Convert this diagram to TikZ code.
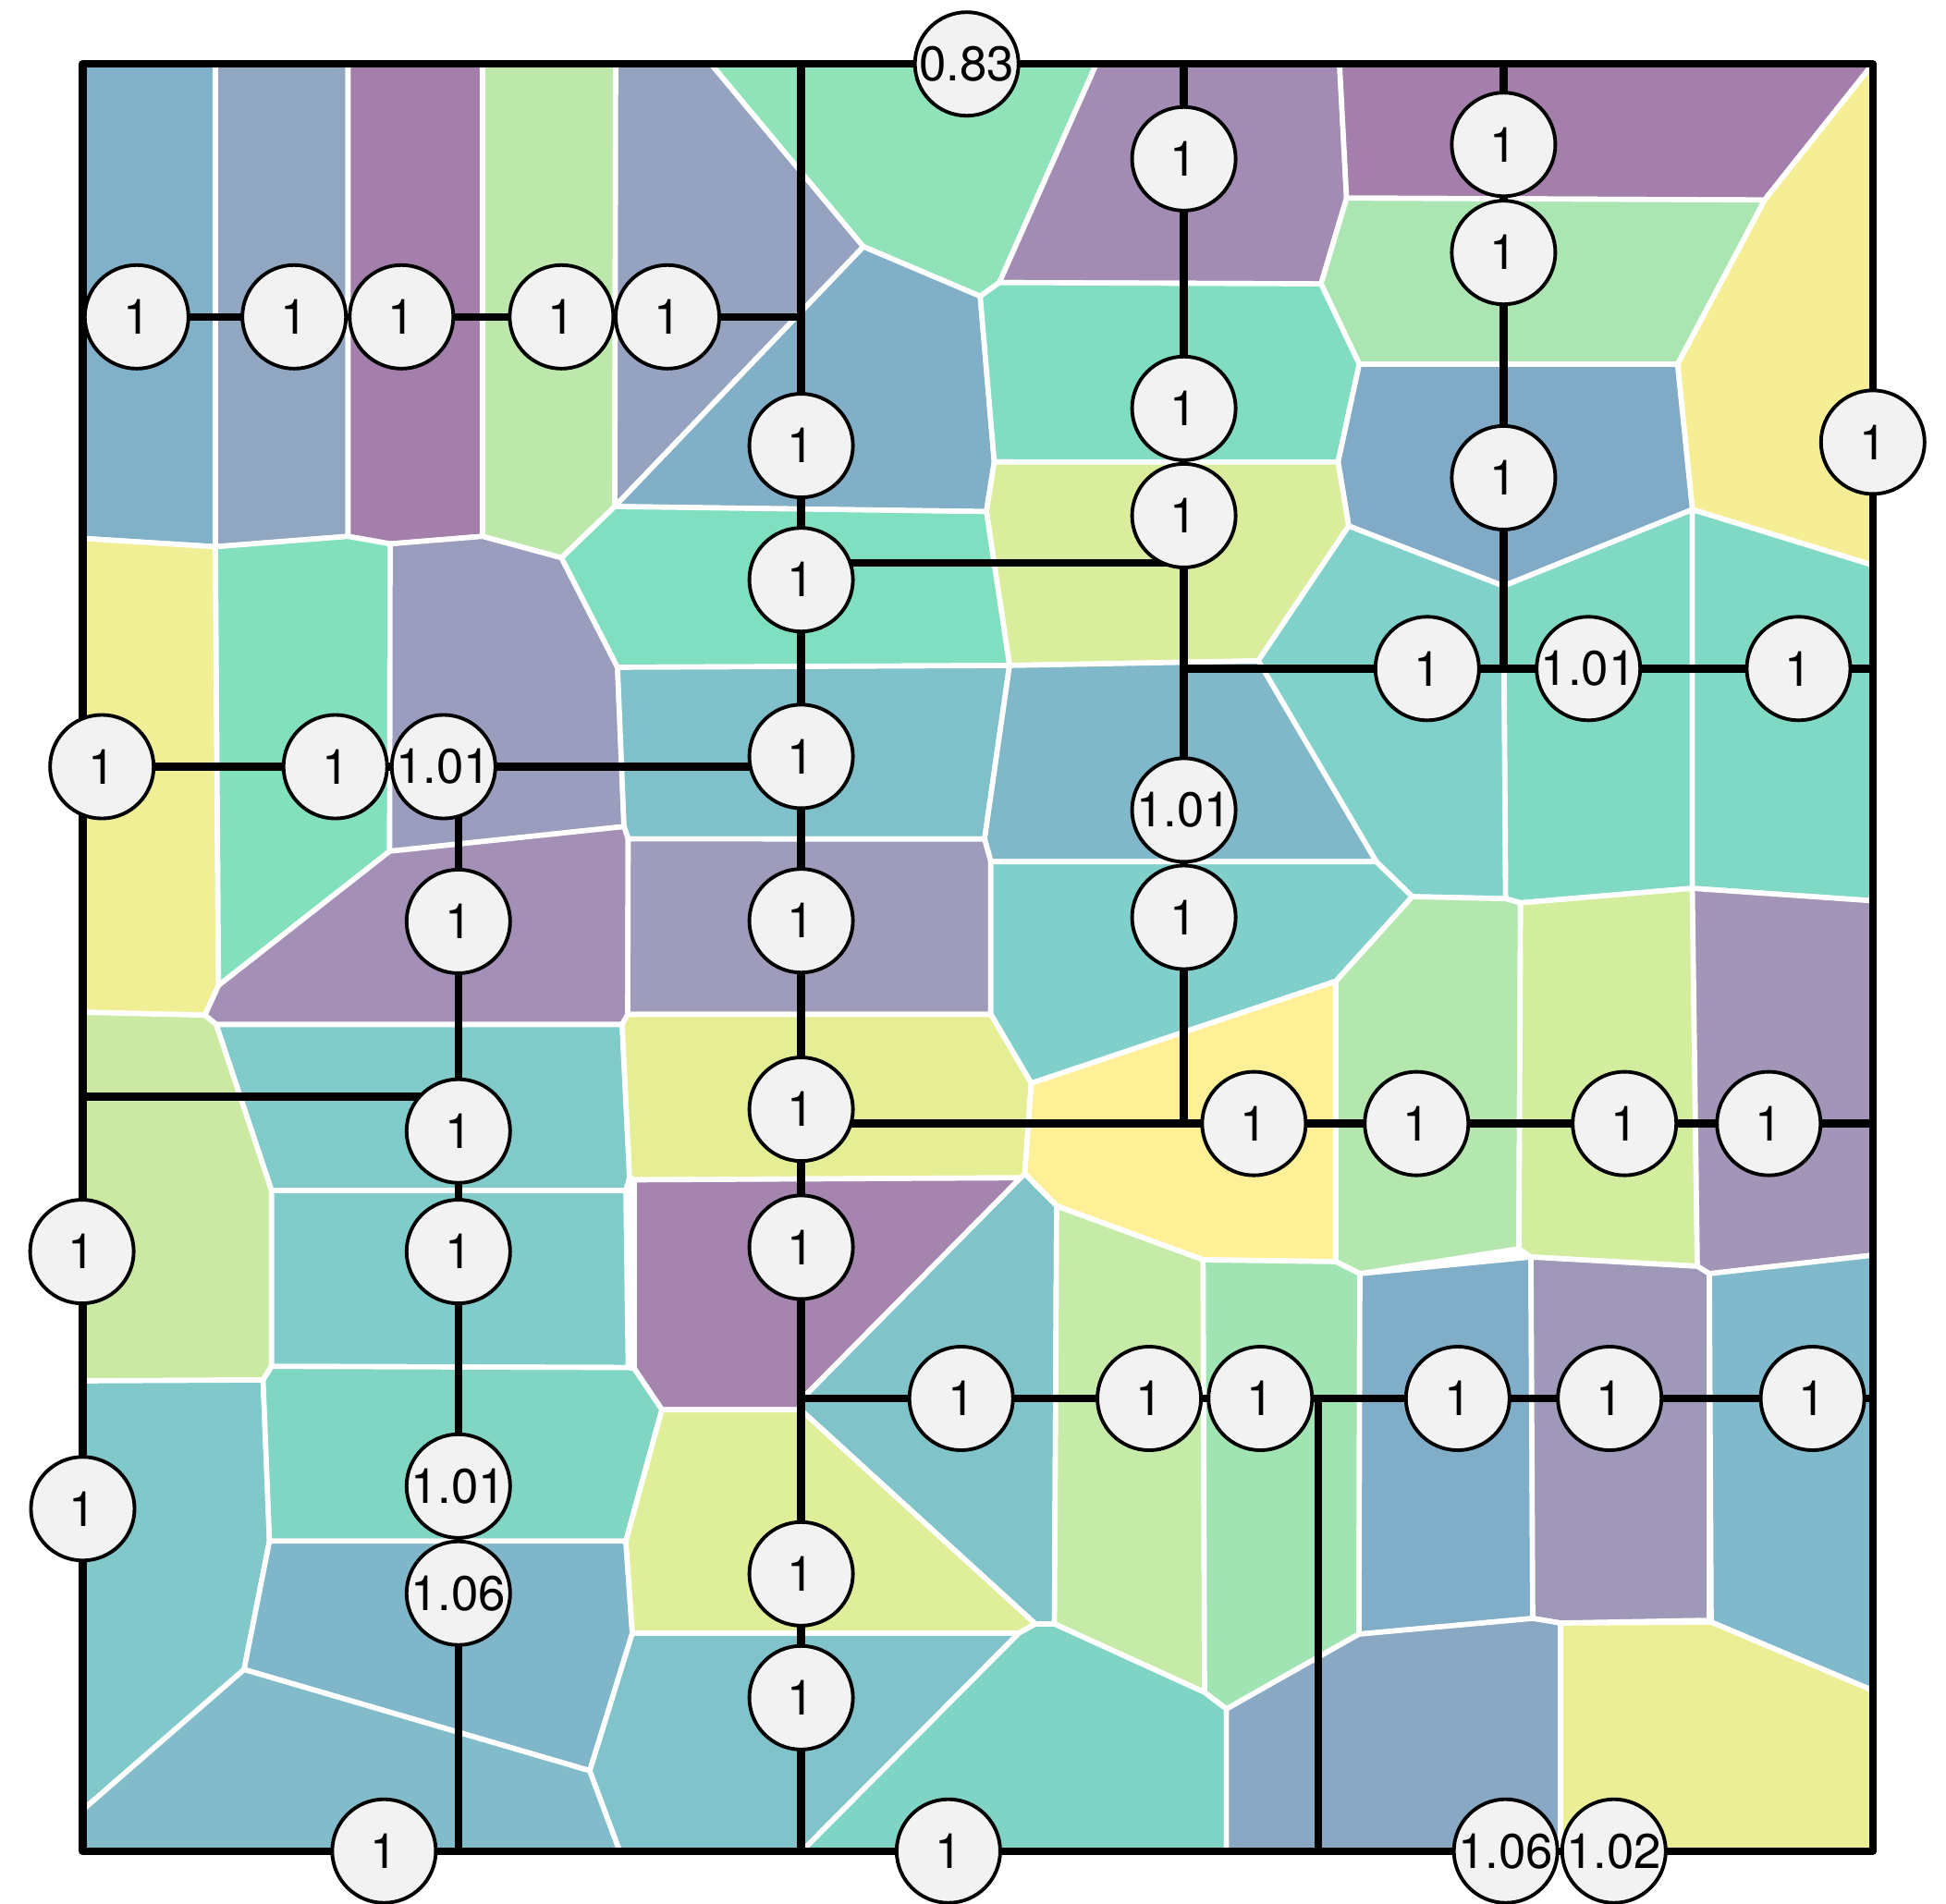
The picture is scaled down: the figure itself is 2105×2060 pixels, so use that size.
\documentclass[tikz,border=0pt]{standalone}
\usepackage{fontspec}
\usepackage{xcolor}
\newfontfamily\valfont{TeX Gyre Heros}
\definecolor{nodegray}{RGB}{242,242,242}
\definecolor{cellA}{RGB}{128,177,200}
\definecolor{cellB}{RGB}{145,166,192}
\definecolor{cellC}{RGB}{164,127,171}
\definecolor{cellD}{RGB}{189,232,171}
\definecolor{cellE}{RGB}{149,162,192}
\definecolor{cellF}{RGB}{144,227,184}
\definecolor{cellG}{RGB}{128,175,199}
\definecolor{cellH}{RGB}{163,140,179}
\definecolor{cellI}{RGB}{164,127,171}
\definecolor{cellJ}{RGB}{245,238,148}
\definecolor{cellK}{RGB}{171,230,178}
\definecolor{cellL}{RGB}{128,221,193}
\definecolor{cellM}{RGB}{128,170,197}
\definecolor{cellN}{RGB}{218,237,156}
\definecolor{cellO}{RGB}{128,209,201}
\definecolor{cellP}{RGB}{128,218,195}
\definecolor{cellQ}{RGB}{128,217,197}
\definecolor{cellR}{RGB}{240,239,150}
\definecolor{cellS}{RGB}{130,224,189}
\definecolor{cellT}{RGB}{155,157,190}
\definecolor{cellU}{RGB}{128,223,192}
\definecolor{cellV}{RGB}{128,192,203}
\definecolor{cellW}{RGB}{128,183,201}
\definecolor{cellX}{RGB}{164,143,182}
\definecolor{cellY}{RGB}{159,156,187}
\definecolor{cellZ}{RGB}{128,207,202}
\definecolor{cell24}{RGB}{203,233,163}
\definecolor{cell25}{RGB}{128,203,202}
\definecolor{cell26}{RGB}{229,238,149}
\definecolor{cell27}{RGB}{254,240,151}
\definecolor{cell28}{RGB}{179,231,174}
\definecolor{cell29}{RGB}{211,237,159}
\definecolor{cell30}{RGB}{162,149,184}
\definecolor{cell31}{RGB}{128,204,202}
\definecolor{cell32}{RGB}{165,133,174}
\definecolor{cell33}{RGB}{128,196,202}
\definecolor{cell34}{RGB}{198,234,168}
\definecolor{cell35}{RGB}{161,228,179}
\definecolor{cell36}{RGB}{128,174,200}
\definecolor{cell37}{RGB}{159,152,185}
\definecolor{cell38}{RGB}{128,185,203}
\definecolor{cell39}{RGB}{128,200,202}
\definecolor{cell40}{RGB}{128,214,195}
\definecolor{cell41}{RGB}{128,182,202}
\definecolor{cell42}{RGB}{130,188,202}
\definecolor{cell43}{RGB}{223,238,153}
\definecolor{cell44}{RGB}{128,195,202}
\definecolor{cell45}{RGB}{128,212,197}
\definecolor{cell46}{RGB}{136,168,196}
\definecolor{cell47}{RGB}{236,238,149}
\pgfdeclarelayer{cells}
\pgfdeclarelayer{lines}
\pgfsetlayers{cells,lines,main}

\begin{document}
\begin{tikzpicture}[
    x=0.01cm, y=-0.01cm,
    cell/.style={draw=white, line width=1.6pt, line join=round},
    frame/.style={draw=black, line width=2.4pt, line join=round},
    tree/.style={draw=black, line width=2.4pt},
    val/.style={circle, draw=black, line width=1.1pt, fill=nodegray, minimum size=1.12cm,
                inner sep=0pt, font=\valfont\fontsize{15pt}{18pt}\selectfont}
]
    \useasboundingbox (0,0) rectangle (2105,2060);

    \begin{pgfonlayer}{cells}
    % cells, top band
    \filldraw[cell, fill=cellA] (89.5,69) -- (233,69) -- (233,591.5) -- (89.5,582.5) -- cycle;
    \filldraw[cell, fill=cellB] (233,69) -- (376.5,69) -- (376.5,580.3) -- (233,591.5) -- cycle;
    \filldraw[cell, fill=cellC] (376.5,69) -- (522,69) -- (522,580.3) -- (422,588.4) -- (376.5,580.3) -- cycle;
    \filldraw[cell, fill=cellD] (522,69) -- (666,69) -- (665,548) -- (607.4,603.5) -- (522,580.3) -- cycle;
    \filldraw[cell, fill=cellE] (666,69) -- (769,69) -- (934,266.9) -- (665,548) -- cycle;
    \filldraw[cell, fill=cellF] (769,69) -- (1186,69) -- (1081,305.7) -- (1060.3,320.5) -- (934,266.9) -- cycle;
    \filldraw[cell, fill=cellG] (665,548) -- (934,266.9) -- (1060.3,320.5) -- (1075.5,499.8) -- (1067,553.5) -- cycle;
    \filldraw[cell, fill=cellH] (1186,69) -- (1449,69) -- (1456.6,214.3) -- (1429,307.1) -- (1081,305.7) -- cycle;
    \filldraw[cell, fill=cellI] (1449,69) -- (2026,69) -- (1908.7,216.4) -- (1456.6,214.3) -- cycle;
    \filldraw[cell, fill=cellJ] (2026,69) -- (2026,611.5) -- (1830.6,551.3) -- (1814.6,394) -- (1908.7,216.4) -- cycle;
    \filldraw[cell, fill=cellK] (1456.6,214.3) -- (1908.7,216.4) -- (1814.6,394) -- (1470.3,394) -- (1429,307.1) -- cycle;
    \filldraw[cell, fill=cellL] (1060.3,320.5) -- (1081,305.7) -- (1429,307.1) -- (1470.3,394) -- (1447.4,499.9) -- (1075.5,499.8) -- cycle;
    \filldraw[cell, fill=cellM] (1470.3,394) -- (1814.6,394) -- (1830.6,551.3) -- (1626.4,634) -- (1458.9,569.1) -- (1447.4,499.9) -- cycle;
    \filldraw[cell, fill=cellN] (1075.5,499.8) -- (1447.4,499.9) -- (1458.9,569.1) -- (1361,715) -- (1092,720) -- (1067,553.5) -- cycle;
    \filldraw[cell, fill=cellO] (1458.9,569.1) -- (1626.4,634) -- (1628.7,972.3) -- (1527.7,970.1) -- (1488.7,932.3) -- (1361,715) -- cycle;
    \filldraw[cell, fill=cellP] (1626.4,634) -- (1830.6,551.3) -- (1830.6,961.1) -- (1644.8,976.8) -- (1628.7,972.3) -- cycle;
    \filldraw[cell, fill=cellQ] (1830.6,551.3) -- (2026,611.5) -- (2026,974.6) -- (1830.6,961.1) -- cycle;

    % cells, middle band
    \filldraw[cell, fill=cellR] (89.5,582.5) -- (233,591.5) -- (236.4,1066.1) -- (221.7,1098.3) -- (89.5,1095.2) -- cycle;
    \filldraw[cell, fill=cellS] (233,591.5) -- (376.5,580.3) -- (422,588.4) -- (421.5,921) -- (236.4,1066.1) -- cycle;
    \filldraw[cell, fill=cellT] (422,588.4) -- (522,580.3) -- (607.4,603.5) -- (668,722) -- (675,894.3) -- (421.5,921) -- cycle;
    \filldraw[cell, fill=cellU] (665,548) -- (1067,553.5) -- (1092,720) -- (668,722) -- (607.4,603.5) -- cycle;
    \filldraw[cell, fill=cellV] (668,722) -- (1092,720) -- (1065,907.8) -- (679.5,907.6) -- (675,894.3) -- cycle;
    \filldraw[cell, fill=cellW] (1092,720) -- (1361,715) -- (1488.7,932.3) -- (1071.8,932.3) -- (1065,907.8) -- cycle;
    \filldraw[cell, fill=cellX] (236.4,1066.1) -- (421.5,921) -- (675,894.3) -- (679.5,907.6) -- (679,1097.5) -- (673,1108.5) -- (234,1108.5) -- (221.7,1098.3) -- cycle;
    \filldraw[cell, fill=cellY] (679.5,907.6) -- (1065,907.8) -- (1071.8,932.3) -- (1071.8,1097.5) -- (679,1097.5) -- cycle;
    \filldraw[cell, fill=cellZ] (1071.8,932.3) -- (1488.7,932.3) -- (1527.7,970.1) -- (1445,1061.6) -- (1115.5,1172) -- (1071.8,1097.5) -- cycle;
    \filldraw[cell, fill=cell24] (89.5,1095.2) -- (221.7,1098.3) -- (234,1108.5) -- (293.8,1288) -- (293.8,1478.3) -- (284.6,1493) -- (89.5,1494) -- cycle;
    \filldraw[cell, fill=cell25] (234,1108.5) -- (673,1108.5) -- (681,1273.7) -- (677,1288) -- (293.8,1288) -- cycle;
    \filldraw[cell, fill=cell26] (679,1097.5) -- (1071.8,1097.5) -- (1115.5,1172) -- (1108.6,1270) -- (1104,1274.3) -- (686,1276.5) -- (681,1273.7) -- (673,1108.5) -- cycle;
    \filldraw[cell, fill=cell27] (1115.5,1172) -- (1445,1061.6) -- (1445,1365) -- (1301.4,1363) -- (1143,1304.8) -- (1108.6,1270) -- cycle;
    \filldraw[cell, fill=cell28] (1445,1061.6) -- (1527.7,970.1) -- (1628.7,972.3) -- (1644.8,976.8) -- (1643,1351) -- (1471,1378) -- (1445,1365) -- cycle;
    \filldraw[cell, fill=cell29] (1644.8,976.8) -- (1830.6,961.1) -- (1836,1370) -- (1656,1360) -- (1643,1351) -- cycle;
    \filldraw[cell, fill=cell30] (1830.6,961.1) -- (2026,974.6) -- (2026,1358) -- (1849,1378) -- (1836,1370) -- cycle;

    % cells, bottom band
    \filldraw[cell, fill=cell31] (293.8,1288) -- (677,1288) -- (679.5,1479.6) -- (293.8,1478.3) -- cycle;
    \filldraw[cell, fill=cell32] (686,1276.5) -- (1104,1274.3) -- (869,1512) -- (866,1525.2) -- (716,1525.2) -- (686,1480.6) -- cycle;
    \filldraw[cell, fill=cell33] (1104,1274.3) -- (1108.6,1270) -- (1143,1304.8) -- (1140.6,1757) -- (1120,1757) -- (866,1525.2) -- (869,1512) -- cycle;
    \filldraw[cell, fill=cell34] (1143,1304.8) -- (1301.4,1363) -- (1303,1831) -- (1140.6,1757) -- cycle;
    \filldraw[cell, fill=cell35] (1301.4,1363) -- (1445,1365) -- (1471,1378) -- (1470,1768) -- (1326.6,1849) -- (1303,1831) -- cycle;
    \filldraw[cell, fill=cell36] (1471,1378) -- (1656,1360) -- (1658,1751) -- (1470,1768) -- cycle;
    \filldraw[cell, fill=cell37] (1656,1360) -- (1836,1370) -- (1849,1378) -- (1849,1753) -- (1688,1756) -- (1658,1751) -- cycle;
    \filldraw[cell, fill=cell38] (1849,1378) -- (2026,1358) -- (2026,1829) -- (1851,1755) -- cycle;
    \filldraw[cell, fill=cell39] (89.5,1494) -- (284.6,1493) -- (291.5,1667.3) -- (264,1806.3) -- (89.5,1958.2) -- cycle;
    \filldraw[cell, fill=cell40] (284.6,1493) -- (293.8,1478.3) -- (679.5,1479.6) -- (686,1480.6) -- (716,1525.2) -- (677,1667.3) -- (291.5,1667.3) -- cycle;
    \filldraw[cell, fill=cell41] (291.5,1667.3) -- (677,1667.3) -- (684,1767) -- (638,1915.8) -- (264,1806.3) -- cycle;
    \filldraw[cell, fill=cell42] (89.5,1958.2) -- (264,1806.3) -- (638,1915.8) -- (670.3,2002.7) -- (89.5,2002.7) -- cycle;
    \filldraw[cell, fill=cell43] (716,1525.2) -- (866,1525.2) -- (1120,1757) -- (1102,1767) -- (684,1767) -- (677,1667.3) -- cycle;
    \filldraw[cell, fill=cell44] (684,1767) -- (1102,1767) -- (867.6,2002.7) -- (670.3,2002.7) -- (638,1915.8) -- cycle;
    \filldraw[cell, fill=cell45] (1102,1767) -- (1120,1757) -- (1140.6,1757) -- (1303,1831) -- (1326.6,1849) -- (1326.6,2002.7) -- (867.6,2002.7) -- cycle;
    \filldraw[cell, fill=cell46] (1326.6,1849) -- (1470,1768) -- (1658,1751) -- (1688,1756) -- (1688,2002.7) -- (1326.6,2002.7) -- cycle;
    \filldraw[cell, fill=cell47] (1688,1756) -- (1851,1755) -- (2026,1829) -- (2026,2002.7) -- (1688,2002.7) -- cycle;
    \end{pgfonlayer}

    % corners and junctions
    \coordinate (nw) at (89.5,69.2);
    \coordinate (ne) at (2025.8,69.2);
    \coordinate (sw) at (89.5,2002.7);
    \coordinate (se) at (2025.8,2002.7);
    \coordinate (k1) at (866.6,609.2);
    \coordinate (k2) at (89.5,1186.6);
    \coordinate (k3) at (1425.8,1513);

    \node[val] (t1) at (1045.7,69.2) {0.83};
    \node[val] (rr) at (2025.8,478.4) {1};

    \node[val] (r1) at (147.8,342.8) {1};
    \node[val] (r2) at (318.2,342.8) {1};
    \node[val] (r3) at (434.3,342.8) {1};
    \node[val] (r4) at (607.4,342.8) {1};
    \node[val] (r5) at (722,342.8) {1};

    \node[val] (a1) at (866.6,482.1) {1};
    \node[val] (a2) at (866.6,627.2) {1};
    \node[val] (a3) at (866.6,818.4) {1};
    \node[val] (a4) at (866.6,996.2) {1};
    \node[val] (a5) at (866.6,1200.1) {1};
    \node[val] (a6) at (866.6,1349.4) {1};
    \node[val] (a7) at (866.6,1702.8) {1};
    \node[val] (a8) at (866.6,1836.8) {1};

    \node[val] (b1) at (1280.6,171.8) {1};
    \node[val] (b2) at (1280.6,441.8) {1};
    \node[val] (b3) at (1280.6,557.9) {1};
    \node[val] (b4) at (1280.6,876.4) {1.01};
    \node[val] (b5) at (1280.6,992.5) {1};

    \node[val] (c1) at (1626.4,156.3) {1};
    \node[val] (c2) at (1626.4,273.2) {1};
    \node[val] (c3) at (1626.4,516.9) {1};

    \node[val] (d1) at (1543.8,723.3) {1};
    \node[val] (d2) at (1718.2,723.3) {1.01};
    \node[val] (d3) at (1945.5,723.3) {1};

    \node[val] (e1) at (1356.4,1215.6) {1};
    \node[val] (e2) at (1532.3,1215.6) {1};
    \node[val] (e3) at (1757.2,1215.6) {1};
    \node[val] (e4) at (1913.3,1215.6) {1};

    \node[val] (f1) at (1039.7,1513) {1};
    \node[val] (f2) at (1243.1,1513) {1};
    \node[val] (f3) at (1363.3,1513) {1};
    \node[val] (f4) at (1576.8,1513) {1};
    \node[val] (f5) at (1741.2,1513) {1};
    \node[val] (f6) at (1960.6,1513) {1};

    \node[val] (g1) at (110.2,829.5) {1};
    \node[val] (g2) at (362.7,829.5) {1};
    \node[val] (g3) at (479.8,829.5) {1.01};

    \node[val] (h1) at (495.8,996.9) {1};
    \node[val] (h2) at (495.8,1223.7) {1};
    \node[val] (h3) at (495.8,1354.1) {1};
    \node[val] (h4) at (495.8,1607.8) {1.01};
    \node[val] (h5) at (495.8,1723.7) {1.06};

    \node[val] (l1) at (88.6,1354.1) {1};
    \node[val] (l2) at (89.5,1632.3) {1};

    \node[val] (m1) at (415.4,2002.7) {1};
    \node[val] (m2) at (1025.9,2002.7) {1};
    \node[val] (m3) at (1628.7,2002.7) {1.06};
    \node[val] (m4) at (1745.8,2002.7) {1.02};

    \begin{pgfonlayer}{lines}
    \draw[frame] (nw) rectangle (se);
    \draw[tree] (nw |- r1) -- (a1 |- r1);
    \draw[tree] (nw -| a1) -- (sw -| a1);
    \draw[tree] (nw -| b1) -- (b1 |- e1);
    \draw[tree] (k1) -- (k1 -| b1);
    \draw[tree] (nw -| c1) -- (c1 |- d1);
    \draw[tree] (b1 |- d1) -- (ne |- d1);
    \draw[tree] (nw |- g1) -- (a1 |- g1);
    \draw[tree] (h1 |- g1) -- (h1 |- sw);
    \draw[tree] (k2) -- (k2 -| h1);
    \draw[tree] (a1 |- e1) -- (ne |- e1);
    \draw[tree] (a1 |- f1) -- (ne |- f1);
    \draw[tree] (k3) -- (k3 |- sw);
    \end{pgfonlayer}
\end{tikzpicture}
\end{document}
